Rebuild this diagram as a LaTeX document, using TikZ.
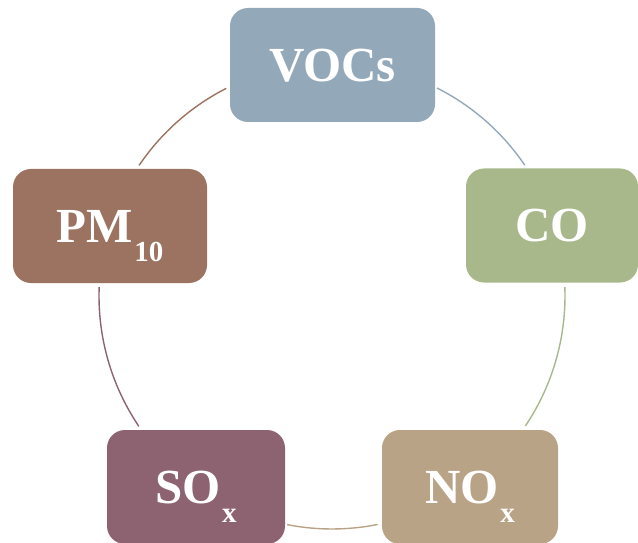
\documentclass[tikz,border=0pt]{standalone}
\usepackage{fontspec}
\setmainfont{Liberation Serif}
\usepackage{xcolor}

\definecolor{vocscol}{HTML}{93A9B9}
\definecolor{cocol}{HTML}{A8B88B}
\definecolor{noxcol}{HTML}{B9A386}
\definecolor{soxcol}{HTML}{8D6371}
\definecolor{pmcol}{HTML}{9B7360}

\newcommand{\lowix}[1]{\kern1.5pt\raisebox{-19pt}{\fontsize{29}{29}\selectfont #1}}

\begin{document}
\begin{tikzpicture}[x=1pt, y=1pt,
        gas/.style = {rounded corners=18pt, minimum height=114pt, inner sep=0pt,
            text=white, font=\bfseries\fontsize{49}{50}\selectfont,
            text height=32.4pt, text depth=0pt},
        link/.style = {line width=1.4pt}]
        \useasboundingbox (0,0) rectangle (638,542);
        \coordinate (ctr) at (332,246);
        \def\R{233}

        \node[gas, fill=vocscol, minimum width=205pt] (VOCs) at (332.5,477) {VOCs};
        \node[gas, fill=cocol, minimum width=172pt] (CO) at (552,316.5) {CO};
        \node[gas, fill=noxcol, minimum width=176pt] (NOx) at (470,55) {NO\lowix{x}};
        \node[gas, fill=soxcol, minimum width=178pt] (SOx) at (196,55) {SO\lowix{x}};
        \node[gas, fill=pmcol, minimum width=194pt] (PM) at (110,316) {PM\lowix{10}};

        % arcs of the cycle, clockwise
        \draw[link, vocscol] (ctr) ++(63.2:\R) arc[start angle=63.2, end angle=34.2, radius=\R];
        \draw[link, cocol] (ctr) ++(2.2:\R) arc[start angle=2.2, end angle=-33.9, radius=\R];
        \draw[link, noxcol] (ctr) ++(-78.7:\R) arc[start angle=-78.7, end angle=-101.1, radius=\R];
        \draw[link, soxcol] (ctr) ++(-146:\R) arc[start angle=-146, end angle=-182.2, radius=\R];
        \draw[link, pmcol] (ctr) ++(145.9:\R) arc[start angle=145.9, end angle=117, radius=\R];
    \end{tikzpicture}
\end{document}
